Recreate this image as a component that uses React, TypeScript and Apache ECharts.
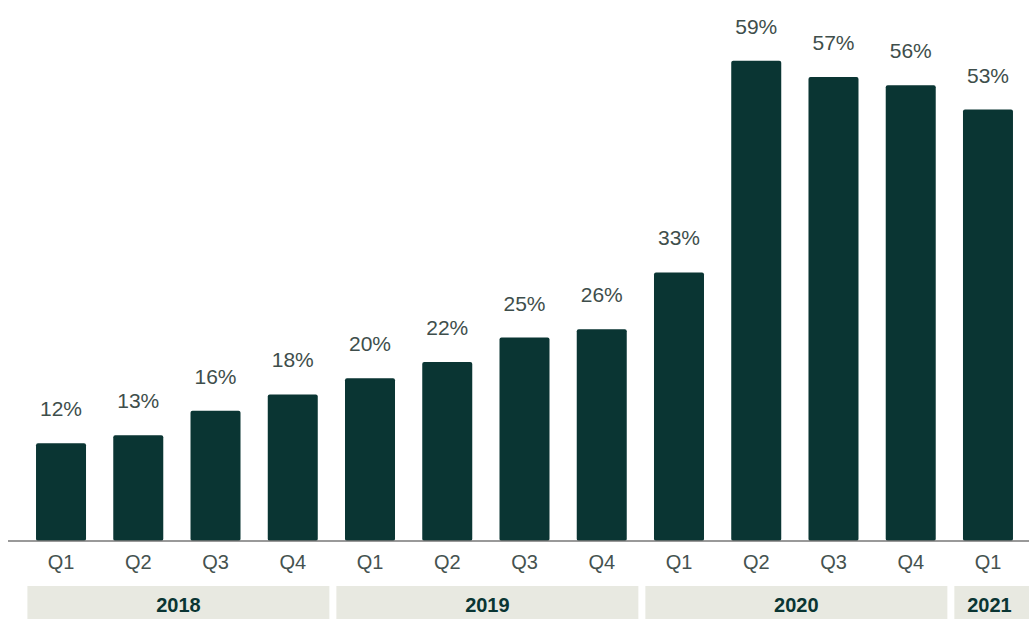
import React, { useEffect, useRef } from "react";
import * as echarts from "echarts";

const quarters = ["Q1", "Q2", "Q3", "Q4", "Q1", "Q2", "Q3", "Q4", "Q1", "Q2", "Q3", "Q4", "Q1"];
const values = [12, 13, 16, 18, 20, 22, 25, 26, 33, 59, 57, 56, 53];
const years = ["2018", "2019", "2020", "2021"];
const yearStart = [0, 4, 8, 12];
const yearEnd = [3, 7, 11, 12];

const BAR = "#0a3533";
const BAND = "#e8e9e1";
const FONT = "Liberation Sans, Arial, Helvetica, sans-serif";

export default function App() {
  const ref = useRef<HTMLDivElement>(null);
  useEffect(() => {
    if (!ref.current) return;
    const chart = echarts.init(ref.current, undefined, { renderer: "svg" });
    const gridL = 22.4;
    const gridR = 2.4;
    chart.setOption({
      animation: false,
      grid: [
        { left: gridL, right: gridR, top: 52.6, bottom: 78 },
        { left: gridL, right: gridR, top: 586, bottom: 0 },
      ],
      xAxis: [
        {
          type: "category",
          data: quarters,
          gridIndex: 0,
          axisLine: { show: false },
          axisTick: { show: false },
          axisLabel: { color: "#45524f", fontSize: 20, fontFamily: FONT, margin: 11 },
        },
        {
          type: "category",
          data: quarters,
          gridIndex: 1,
          show: false,
        },
      ],
      yAxis: [
        { type: "value", min: 0, max: 60, show: false, gridIndex: 0 },
        { type: "value", min: 0, max: 1, show: false, gridIndex: 1 },
      ],
      graphic: [
        {
          type: "line",
          shape: { x1: 8, y1: 541, x2: 1029, y2: 541 },
          style: { stroke: "#777777", lineWidth: 1.5 },
          z: 10,
        },
      ],
      series: [
        {
          type: "bar",
          data: values,
          barWidth: 50,
          itemStyle: { color: BAR, borderRadius: 2 },
          label: {
            show: true,
            position: "top",
            distance: 24,
            formatter: "{c}%",
            color: "#3e4e4b",
            fontSize: 21,
            fontFamily: FONT,
          },
        },
        {
          type: "custom",
          xAxisIndex: 1,
          yAxisIndex: 1,
          data: years.map((y, i) => [yearStart[i], yearEnd[i], y]),
          renderItem: (params: any, api: any) => {
            const s = api.value(0);
            const e = api.value(1);
            const label = years[params.dataIndex];
            const band = api.size([1, 0])[0];
            const x0 = api.coord([s, 0])[0] - band / 2 + 5;
            const x1 = api.coord([e, 0])[0] + band / 2 - 2;
            const cs = params.coordSys;
            return {
              type: "group",
              children: [
                {
                  type: "rect",
                  shape: { x: x0, y: cs.y, width: x1 - x0 + (params.dataIndex === years.length - 1 ? 10 : 0), height: cs.height + 10 },
                  style: { fill: BAND },
                },
                {
                  type: "text",
                  x: (x0 + x1) / 2,
                  y: cs.y + 19,
                  style: {
                    text: label,
                    fill: "#0a3533",
                    font: `bold 20px ${FONT}`,
                    align: "center",
                    verticalAlign: "middle",
                  },
                },
              ],
            };
          },
        },
      ],
    });
    return () => chart.dispose();
  }, []);
  return (
    <div
      ref={ref}
      style={{ position: "fixed", left: 0, top: 0, width: 1029, height: 619, background: "#ffffff" }}
    />
  );
}
